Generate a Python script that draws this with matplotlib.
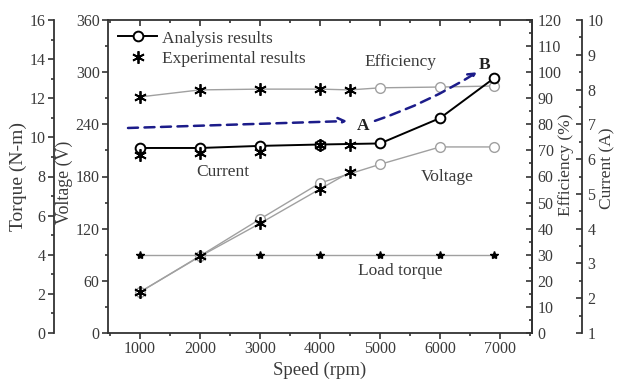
import matplotlib
matplotlib.use("Agg")
import matplotlib.pyplot as plt
from matplotlib.ticker import MultipleLocator
from matplotlib.lines import Line2D

plt.rcParams['font.family'] = ['Liberation Serif', 'DejaVu Serif']

# ---------------- data ----------------
speed_ana = [1000, 2000, 3000, 4000, 5000, 6000, 6900]
speed_exp = [1000, 2000, 3000, 4000, 4500]

current_ana = [6.32, 6.32, 6.38, 6.42, 6.45, 7.18, 8.33]
current_exp = [6.12, 6.18, 6.20, 6.40, 6.42]

voltage_ana = [47, 88.5, 131, 172.5, 194, 214, 214]
voltage_exp = [47, 88, 126, 165.6, 185]

eff_exp = [90.5, 93.2, 93.5, 93.5, 93.2]
eff_ana_speed = [5000, 6000, 6900]
eff_ana = [94.0, 94.3, 94.7]

torque_speed = [1000, 2000, 3000, 4000, 5000, 6000, 6900]
load_torque = [4, 4, 4, 4, 4, 4, 4]

# ---------------- style ----------------
TXT = '#3a3a3a'
SP = '#333333'
GRAY = '#a0a0a0'
FS_TICK = 11.5
FS_LAB = 12.5
AST = (6, 2, 0)
AST_MS, AST_MEW = 9, 1.3

fig = plt.figure(figsize=(6.22, 3.83), dpi=100)
L, R, B, T = 108, 532, 333, 20
W, H = 622, 383
ax = fig.add_axes([L / W, 1 - B / H, (R - L) / W, (B - T) / H])
ax_t = ax.twinx()
ax_e = ax.twinx()
ax_c = ax.twinx()

for a in (ax_t, ax_e, ax_c):
    a.patch.set_visible(False)
    for s in a.spines.values():
        s.set_visible(False)

for s in ax.spines.values():
    s.set_color(SP)
    s.set_linewidth(1.3)

ax.set_xlim(470, 7530)
ax.set_ylim(0, 360)
ax_t.set_ylim(0, 16)
ax_e.set_ylim(0, 120)
ax_c.set_ylim(1, 10)

# x axis
ax.set_xticks([1000, 2000, 3000, 4000, 5000, 6000, 7000])
ax.xaxis.set_minor_locator(MultipleLocator(500))
ax.tick_params(axis='x', which='both', bottom=True, top=False, direction='out',
               colors=SP, labelcolor=TXT, labelsize=FS_TICK, width=1.2, pad=2)
ax.tick_params(axis='x', which='major', length=4)
ax.tick_params(axis='x', which='minor', length=2.5)
ax_top = ax.secondary_xaxis('top')
ax_top.set_xticks([1000, 2000, 3000, 4000, 5000, 6000, 7000])
ax_top.xaxis.set_minor_locator(MultipleLocator(500))
ax_top.tick_params(which='both', direction='in', labeltop=False, colors=SP, width=1.2)
ax_top.tick_params(which='major', length=4)
ax_top.tick_params(which='minor', length=2.5)
ax_top.spines['top'].set_visible(False)

# voltage axis (inner left)
ax.yaxis.set_major_locator(MultipleLocator(60))
ax.yaxis.set_minor_locator(MultipleLocator(30))
ax.tick_params(axis='y', which='both', left=True, right=False, direction='out',
               colors=SP, labelcolor=TXT, labelsize=FS_TICK, width=1.2, pad=2)
ax.tick_params(axis='y', which='major', length=4)
ax.tick_params(axis='y', which='minor', length=2.5)
ax.set_ylabel('Voltage (V)', fontsize=12.8, color=TXT)
ax.yaxis.set_label_coords(-0.0825, 0.482)

# torque axis (outer left)
ax_t.spines['left'].set_visible(True)
ax_t.spines['left'].set_position(('outward', 54 * 0.72))
ax_t.spines['left'].set_color(SP)
ax_t.spines['left'].set_linewidth(1.3)
ax_t.yaxis.set_ticks_position('left')
ax_t.yaxis.set_label_position('left')
ax_t.yaxis.set_major_locator(MultipleLocator(2))
ax_t.yaxis.set_minor_locator(MultipleLocator(1))
ax_t.tick_params(axis='y', which='both', direction='out', colors=SP, labelcolor=TXT,
                 labelsize=FS_TICK, width=1.2, pad=2)
ax_t.tick_params(axis='y', which='major', length=4)
ax_t.tick_params(axis='y', which='minor', length=2.5)
ax_t.set_ylabel('Torque (N-m)', fontsize=14, color=TXT)
ax_t.yaxis.set_label_coords(-0.191, 0.50)

# efficiency axis (inner right)
ax_e.spines['right'].set_visible(True)
ax_e.spines['right'].set_color(SP)
ax_e.spines['right'].set_linewidth(1.3)
ax_e.yaxis.set_major_locator(MultipleLocator(10))
ax_e.yaxis.set_minor_locator(MultipleLocator(5))
ax_e.tick_params(axis='y', which='both', direction='in', colors=SP, labelcolor=TXT,
                 labelsize=FS_TICK, width=1.2, pad=4)
ax_e.tick_params(axis='y', which='major', length=4)
ax_e.tick_params(axis='y', which='minor', length=2.5)
ax_e.set_ylabel('Efficiency (%)', fontsize=FS_LAB, color=TXT)
ax_e.yaxis.set_label_coords(1.061, 0.537)

# current axis (outer right)
ax_c.spines['right'].set_visible(True)
ax_c.spines['right'].set_position(('outward', 50 * 0.72))
ax_c.spines['right'].set_color(SP)
ax_c.spines['right'].set_linewidth(1.3)
ax_c.yaxis.set_major_locator(MultipleLocator(1))
ax_c.yaxis.set_minor_locator(MultipleLocator(0.5))
ax_c.tick_params(axis='y', which='both', direction='in', colors=SP, labelcolor=TXT,
                 labelsize=FS_TICK, width=1.2, pad=4)
ax_c.tick_params(axis='y', which='major', length=4)
ax_c.tick_params(axis='y', which='minor', length=2.5)
ax_c.set_ylabel('Current (A)', fontsize=FS_LAB, color=TXT)
ax_c.yaxis.set_label_coords(1.160, 0.527)

ax.set_xlabel('Speed (rpm)', fontsize=13.5, color=TXT, labelpad=3)

# ---------------- series ----------------
ax_t.plot(torque_speed, load_torque, color=GRAY, lw=1.0, marker='*', ms=6,
          mfc='black', mec='black', zorder=3)

ax.plot(speed_ana, voltage_ana, color=GRAY, lw=1.0, marker='o', ms=7,
        mfc='white', mec=GRAY, mew=1.0, zorder=3)
ax.plot(speed_exp, voltage_exp, color=GRAY, lw=1.0, marker=AST, ms=AST_MS,
        mec='black', mew=AST_MEW, zorder=4)

ax_e.plot(speed_exp + eff_ana_speed, eff_exp + eff_ana, color=GRAY, lw=1.0, zorder=2)
ax_e.plot(eff_ana_speed, eff_ana, ls='none', marker='o', ms=7, mfc='white',
          mec=GRAY, mew=1.0, zorder=3)
ax_e.plot(speed_exp, eff_exp, ls='none', marker=AST, ms=AST_MS, mec='black',
          mew=AST_MEW, zorder=4)

ax_c.plot(speed_ana, current_ana, color='black', lw=1.4, marker='o', ms=7,
          mfc='white', mec='black', mew=1.4, zorder=3)
ax_c.plot(speed_exp, current_exp, ls='none', marker=AST, ms=AST_MS, mec='black',
          mew=AST_MEW, zorder=4)

# legend
h1 = Line2D([], [], color='black', lw=1.4, marker='o', ms=7, mfc='white',
            mec='black', mew=1.4)
h2 = Line2D([], [], ls='none', marker=AST, ms=AST_MS, mec='black', mew=AST_MEW)
ax_c.legend([h1, h2], ['Analysis results', 'Experimental results'],
            loc='upper left', bbox_to_anchor=(0.0, 1.0), frameon=False,
            fontsize=FS_LAB, labelcolor=TXT, handlelength=2.2,
            handletextpad=0.3, borderaxespad=0.2, labelspacing=0.25)

# annotations (positions given in voltage units, drawn on top axes)
def v2c(v):
    return 1 + v / 40.0

ax_c.text(5333, v2c(311.7), 'Efficiency', fontsize=FS_LAB, color=TXT, ha='center', va='center')
ax_c.text(2385, v2c(185), 'Current', fontsize=FS_LAB, color=TXT, ha='center', va='center')
ax_c.text(6114, v2c(179.4), 'Voltage', fontsize=FS_LAB, color=TXT, ha='center', va='center')
ax_c.text(5333, v2c(71.3), 'Load torque', fontsize=FS_LAB, color=TXT, ha='center', va='center')

NAVY = '#1c1c8a'
ax_c.annotate('', xy=(4450, v2c(243.8)), xytext=(803, v2c(235.8)),
              arrowprops=dict(arrowstyle='->', color=NAVY, lw=1.8, ls=(0, (4, 2.6)),
                              shrinkA=0, shrinkB=0, mutation_scale=12), zorder=5)
ax_c.text(4720, v2c(238), 'A', fontsize=FS_LAB, color='#222222', fontweight='bold',
          ha='center', va='center')
ax_c.annotate('', xy=(6614, v2c(300)), xytext=(4915, v2c(244)),
              arrowprops=dict(arrowstyle='->', color=NAVY, lw=1.8, ls=(0, (4, 2.6)),
                              shrinkA=0, shrinkB=0, mutation_scale=12,
                              connectionstyle='arc3,rad=0.06'), zorder=5)
ax_c.text(6747, v2c(308), 'B', fontsize=FS_LAB, color='#222222', fontweight='bold',
          ha='center', va='center')

fig.savefig('out.png', dpi=100)
